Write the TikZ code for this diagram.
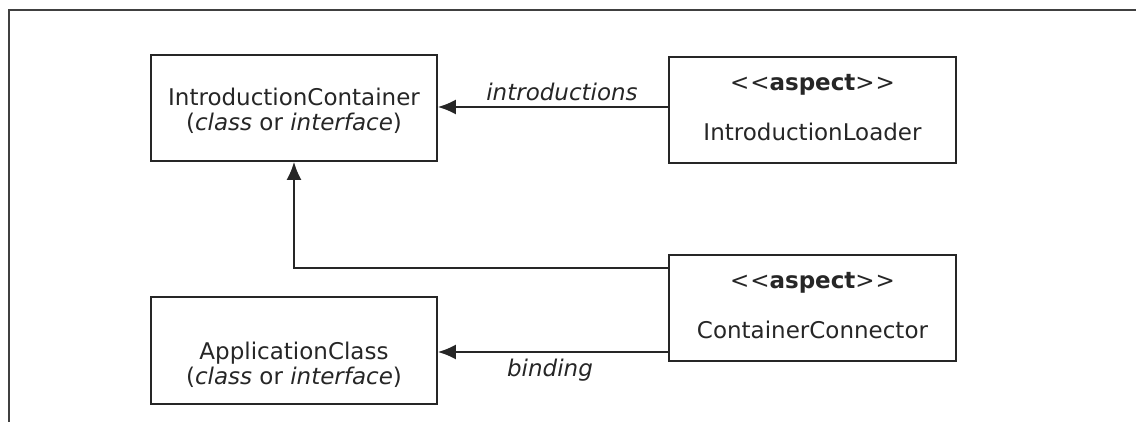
\documentclass[tikz,border=0pt]{standalone}
\usepackage{fontspec}
\setmainfont{DejaVu Sans}
\usetikzlibrary{arrows.meta}
\newcommand{\stereo}[1]{{<}\kern1pt{<}\textbf{#1}{>}\kern1pt{>}}
\tikzset{
  umlbox/.style={draw=black!85, line width=1.8pt, minimum width=286pt, minimum height=106pt, inner sep=0pt},
  txt/.style={inner sep=0pt, font=\fontsize{23}{25}\selectfont, align=center, text=black!85},
  conn/.style={draw=black!85, line width=1.8pt, -{Latex[length=18pt,width=15pt]}},
  framel/.style={draw=black!75, line width=2.4pt}
}
\begin{document}
\begin{tikzpicture}[x=1pt,y=-1pt]
\useasboundingbox (0,0) rectangle (1136,422);
\coordinate (fa) at (9,422);
\coordinate (fb) at (9,10);
\coordinate (fc) at (1136,10);
\draw[framel] (fa) -- (fb) -- (fc);

\node[umlbox] (container) at (294,108) {};
\node[umlbox, minimum width=287pt] (loader) at (812.5,110) {};
\node[umlbox, minimum height=107pt] (app) at (294,350.5) {};
\node[umlbox, minimum width=287pt] (connector) at (812.5,308) {};

\node[txt] (t1) at (294,110.5) {IntroductionContainer\\(\textit{class} or \textit{interface})};
\node[txt] (t2a) at (812.5,85) {\stereo{aspect}};
\node[txt] (t2b) at (812.5,132) {IntroductionLoader};
\node[txt] (t3) at (294,365) {ApplicationClass\\(\textit{class} or \textit{interface})};
\node[txt] (t4a) at (812.5,283) {\stereo{aspect}};
\node[txt] (t4b) at (812.5,330) {ContainerConnector};

\draw[conn] ([yshift=3pt]loader.west) -- ([yshift=3pt]loader.west -| container.east);
\draw[conn] ([yshift=40pt]connector.west) -| (container.south);
\draw[conn] ([yshift=-44pt]connector.west) -- ([yshift=-44pt]connector.west -| app.east);

\node[txt, font=\fontsize{23}{25}\selectfont\itshape] (lintro) at (562,92) {introductions};
\node[txt, font=\fontsize{23}{25}\selectfont\itshape] (lbind) at (550,370) {binding};
\end{tikzpicture}
\end{document}
